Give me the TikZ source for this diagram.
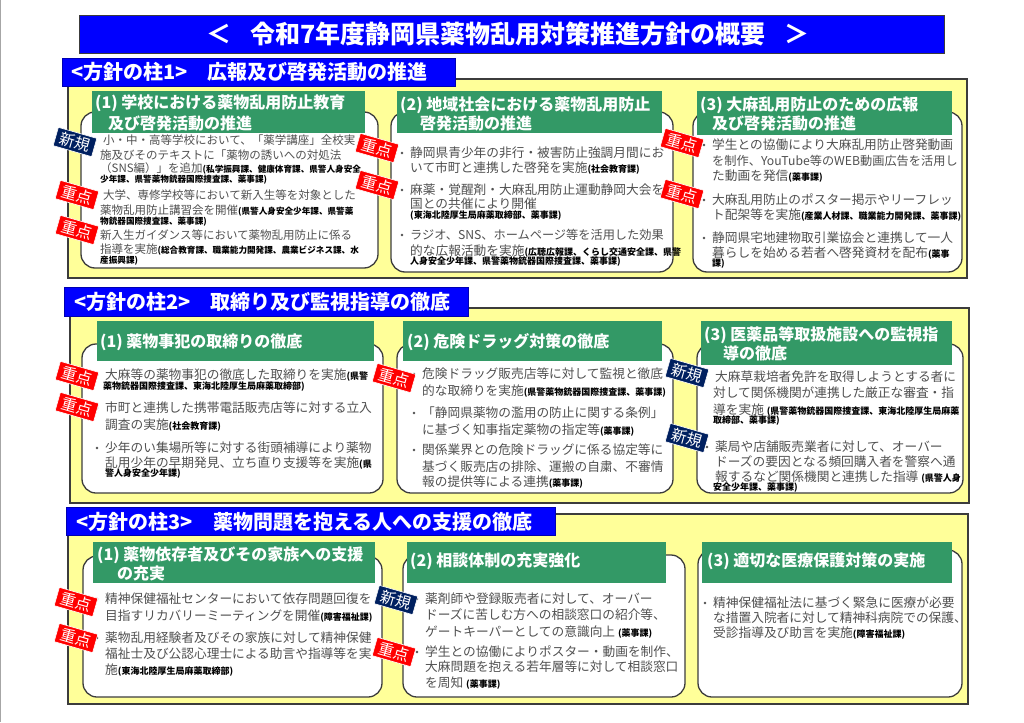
\documentclass[tikz,border=0pt]{standalone}
\usepackage{fontspec}
\setmainfont{Noto Sans CJK JP}
\definecolor{tblue}{RGB}{0,0,255}
\definecolor{hgreen}{RGB}{51,153,102}
\definecolor{pyellow}{RGB}{255,255,153}
\definecolor{bodygray}{RGB}{80,80,80}
\definecolor{navy}{RGB}{0,32,96}
\definecolor{edgegray}{RGB}{60,60,60}
\newcounter{lnc}
\newcommand\tline[4][txt]{\stepcounter{lnc}\node[#1] (line\thelnc) at (#2,#3) {#4};}
\newcommand\bline[3]{\fill[bodygray] (#1-8,#2) circle (1.3pt);\tline{#1}{#2}{#3}}
\newcommand\nt[1]{{\color{black}\bfseries\fontsize{9}{10}\selectfont #1}}
\newcommand\ntA[1]{{\color{black}\bfseries\fontsize{8.6}{10}\selectfont #1}}
\newcommand\badge[4]{\stepcounter{lnc}\node[badgebox,fill=#1] (bdg\thelnc) at (#2,#3) {#4};}
\newcommand\hdline[3]{\stepcounter{lnc}\node[hdr] (hdr\thelnc) at (#1,#2) {#3};}
\tikzset{
  txt/.style={anchor=west,inner sep=0pt,text=bodygray,font=\fontsize{12.7}{14}\selectfont},
  txtA/.style={anchor=west,inner sep=0pt,text=bodygray,font=\fontsize{11.5}{13}\selectfont},
  hdr/.style={anchor=west,inner sep=0pt,text=white,font=\bfseries\fontsize{16}{16}\selectfont},
  phdr/.style={anchor=west,inner sep=0pt,text=white,font=\bfseries\fontsize{20}{20}\selectfont},
  badgebox/.style={rotate=-16,minimum width=40pt,minimum height=19pt,inner sep=0pt,text=white,
    draw=white,line width=0.6pt,font=\fontsize{15.5}{15.5}\selectfont},
  panel/.style={fill=pyellow,draw=edgegray,line width=1.3pt},
  wbox/.style={fill=white,draw=edgegray,line width=1.3pt,rounded corners=14pt},
  gbar/.style={fill=hgreen},
  bluebar/.style={fill=tblue,draw=tblue!70!black,line width=0.6pt}
}
\begin{document}
\begin{tikzpicture}[x=1pt,y=-1pt]
\useasboundingbox (0,0) rectangle (1024,722);
\fill[white] (0,0) rectangle (1024,722);
\draw[gray!70,line width=0.8pt] (0.5,0) -- (0.5,722);

% title
\fill[tblue,draw=edgegray,line width=0.8pt] (79,15) rectangle (944,53);
\node[inner sep=0pt,text=white,font=\bfseries\fontsize{25}{25}\selectfont] (title) at (508,34) {＜\hspace{19pt}令和7年度静岡県薬物乱用対策推進方針の概要\hspace{19pt}＞};

% ===== panels =====
\draw[panel] (68,79) rectangle (967,278);
\draw[panel] (70,308) rectangle (969,503);
\draw[panel] (68,514) rectangle (968,704);

% pillar headers
\draw[bluebar] (62,58) rectangle (455,86);
\node[phdr] (p1a) at (71,72) {<方針の柱1>};
\node[phdr] (p1b) at (207,72) {広報及び啓発活動の推進};
\draw[bluebar] (64,287) rectangle (468,316);
\node[phdr] (p2a) at (74,301.5) {<方針の柱2>};
\node[phdr] (p2b) at (210,301.5) {取締り及び監視指導の徹底};
\draw[bluebar] (66,507) rectangle (555,535);
\node[phdr] (p3a) at (76,522) {<方針の柱3>};
\node[phdr] (p3b) at (213,522) {薬物問題を抱える人への支援の徹底};

% ===== white boxes =====
\draw[wbox] (81,112) rectangle (378,268);
\draw[wbox] (391,112) rectangle (673,272);
\draw[wbox] (693,112) rectangle (962,272);
\draw[wbox] (82,344) rectangle (383,493);
\draw[wbox] (397,344) rectangle (673,493);
\draw[wbox] (697,344) rectangle (963,493);
\draw[wbox] (83,556) rectangle (382,697);
\draw[wbox] (403,555) rectangle (685,697);
\draw[wbox] (698,550) rectangle (962,697);

% ===== green header bars =====
\fill[gbar] (92,91) rectangle (365,133);
\fill[gbar] (397,91) rectangle (662,133);
\fill[gbar] (697,91) rectangle (952,135);
\fill[gbar] (97,321) rectangle (374,361);
\fill[gbar] (403,321) rectangle (662,361);
\fill[gbar] (701,321) rectangle (952,365);
\fill[gbar] (93,542) rectangle (375,583);
\fill[gbar] (407,542) rectangle (666,583);
\fill[gbar] (702,542) rectangle (952,583);

\hdline{95}{103}{(1) 学校における薬物乱用防止教育}
\hdline{108}{123}{及び啓発活動の推進}
\hdline{400}{105}{(2) 地域社会における薬物乱用防止}
\hdline{420}{123}{啓発活動の推進}
\hdline{700}{105}{(3) 大麻乱用防止のための広報}
\hdline{712}{123}{及び啓発活動の推進}
\hdline{100}{342}{(1) 薬物事犯の取締りの徹底}
\hdline{407}{342}{(2) 危険ドラッグ対策の徹底}
\hdline{704}{335}{(3) 医薬品等取扱施設への監視指}
\hdline{723}{353}{導の徹底}
\hdline{97}{555}{(1) 薬物依存者及びその家族への支援}
\hdline{117}{573}{の充実}
\hdline{410}{561}{(2) 相談体制の充実強化}
\hdline{707}{561}{(3) 適切な医療保護対策の実施}

% ===== box 1-1 =====
\tline[txtA]{103}{140}{小・中・高等学校において、「薬学講座」全校実}
\tline[txtA]{100}{155}{施及びそのテキストに「薬物の誘いへの対処法}
\tline[txtA]{100}{168}{（SNS編）」を追加\ntA{(私学振興課、健康体育課、県警人身安全}}
\tline[txtA]{100}{180}{\ntA{少年課、県警薬物銃器国際捜査課、薬事課)}}
\tline[txtA]{103}{195}{大学、専修学校等において新入生等を対象とした}
\tline[txtA]{100}{211}{薬物乱用防止講習会を開催\ntA{(県警人身安全少年課、県警薬}}
\tline[txtA]{100}{222}{\ntA{物銃器国際捜査課、薬事課)}}
\tline[txtA]{100}{235}{新入生ガイダンス等において薬物乱用防止に係る}
\tline[txtA]{100}{250}{指導を実施\ntA{(総合教育課、職業能力開発課、農業ビジネス課、水}}
\tline[txtA]{100}{261}{\ntA{産振興課)}}

% ===== box 1-2 =====
\bline{410}{153}{静岡県青少年の非行・被害防止強調月間にお}
\tline{410}{168}{いて市町と連携した啓発を実施\nt{(社会教育課)}}
\bline{410}{190}{麻薬・覚醒剤・大麻乱用防止運動静岡大会を}
\tline{410}{204}{国との共催により開催}
\tline{410}{216}{\nt{(東海北陸厚生局麻薬取締部、薬事課)}}
\bline{410}{235}{{\fontsize{12.2}{14}\selectfont ラジオ、SNS、ホームページ等を活用した効果}}
\tline{410}{251}{的な広報活動を実施\nt{(広聴広報課、くらし交通安全課、県警}}
\tline{410}{262}{\nt{人身安全少年課、県警薬物銃器国際捜査課、薬事課)}}

% ===== box 1-3 =====
\bline{712}{145}{学生との協働により大麻乱用防止啓発動画}
\tline{712}{161}{{\fontsize{12.2}{14}\selectfont を制作、YouTube等のWEB動画広告を活用し}}
\tline{712}{176}{た動画を発信\nt{(薬事課)}}
\bline{712}{200}{大麻乱用防止のポスター掲示やリーフレッ}
\tline{712}{215}{ト配架等を実施\nt{(産業人材課、職業能力開発課、薬事課)}}
\bline{712}{238}{静岡県宅地建物取引業協会と連携して一人}
\tline{712}{253}{暮らしを始める若者へ啓発資材を配布\nt{(薬事}}
\tline{712}{264}{\nt{課)}}

% ===== box 2-1 =====
\bline{105}{375}{大麻等の薬物事犯の徹底した取締りを実施\nt{(県警}}
\tline{103}{387}{\nt{薬物銃器国際捜査課、東海北陸厚生局麻薬取締部)}}
\bline{105}{408}{市町と連携した携帯電話販売店等に対する立入}
\tline{105}{425}{調査の実施\nt{(社会教育課)}}
\bline{105}{448}{少年のい集場所等に対する街頭補導により薬物}
\tline{105}{463}{乱用少年の早期発見、立ち直り支援等を実施\nt{(県}}
\tline{105}{474}{\nt{警人身安全少年課)}}

% ===== box 2-2 =====
\bline{422}{374}{危険ドラッグ販売店等に対して監視と徹底}
\tline{422}{391}{的な取締りを実施\nt{(県警薬物銃器国際捜査課、薬事課)}}
\bline{422}{413}{「静岡県薬物の濫用の防止に関する条例」}
\tline{422}{430}{に基づく知事指定薬物の指定等\nt{(薬事課)}}
\bline{422}{450}{関係業界との危険ドラッグに係る協定等に}
\tline{422}{467}{基づく販売店の排除、運搬の自粛、不審情}
\tline{422}{482}{報の提供等による連携\nt{(薬事課)}}

% ===== box 2-3 =====
\tline{715}{377}{大麻草栽培者免許を取得しようとする者に}
\tline{713}{393}{対して関係機関が連携した厳正な審査・指}
\tline{713}{410}{導を実施 \nt{(県警薬物銃器国際捜査課、東海北陸厚生局麻薬}}
\tline{713}{421}{\nt{取締部、薬事課)}}
\bline{715}{447}{薬局や店舗販売業者に対して、オーバー}
\tline{715}{462}{ドーズの要因となる頻回購入者を警察へ通}
\tline{715}{477}{報するなど関係機関と連携した指導 \nt{(県警人身}}
\tline{713}{488}{\nt{安全少年課、薬事課)}}

% ===== box 3-1 =====
\bline{105}{599}{精神保健福祉センターにおいて依存問題回復を}
\tline{105}{616}{目指すリカバリーミーティングを開催\nt{(障害福祉課)}}
\bline{105}{638}{薬物乱用経験者及びその家族に対して精神保健}
\tline{105}{654}{福祉士及び公認心理士による助言や指導等を実}
\tline{105}{670}{施\nt{(東海北陸厚生局麻薬取締部)}}

% ===== box 3-2 =====
\bline{425}{599}{薬剤師や登録販売者に対して、オーバー}
\tline{425}{615}{ドーズに苦しむ方への相談窓口の紹介等、}
\tline{425}{632}{ゲートキーパーとしての意識向上 \nt{(薬事課)}}
\bline{425}{652}{学生との協働によりポスター・動画を制作、}
\tline{425}{667}{大麻問題を抱える若年層等に対して相談窓口}
\tline{425}{683}{を周知 \nt{(薬事課)}}

% ===== box 3-3 =====
\bline{713}{603}{精神保健福祉法に基づく緊急に医療が必要}
\tline{713}{618}{な措置入院者に対して精神科病院での保護、}
\tline{713}{633}{受診指導及び助言を実施\nt{(障害福祉課)}}

% ===== badges =====
\badge{navy}{75}{142}{新規}
\badge{red}{77}{195}{重点}
\badge{red}{77}{230}{重点}
\badge{red}{377}{148}{重点}
\badge{red}{377}{185}{重点}
\badge{red}{682}{143}{重点}
\badge{red}{682}{194}{重点}
\badge{red}{77}{376}{重点}
\badge{red}{77}{407}{重点}
\badge{red}{394}{378}{重点}
\badge{navy}{687}{373}{新規}
\badge{navy}{687}{438}{新規}
\badge{red}{76}{602}{重点}
\badge{red}{76}{638}{重点}
\badge{navy}{396}{600}{新規}
\badge{red}{394}{652}{重点}
\end{tikzpicture}
\end{document}
